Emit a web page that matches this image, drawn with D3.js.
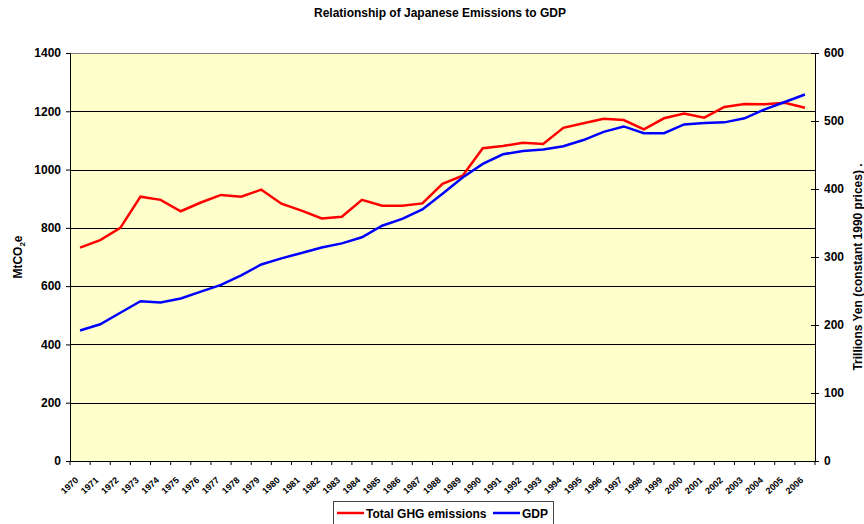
<!DOCTYPE html>
<html>
<head>
<meta charset="utf-8">
<script src="https://cdn.jsdelivr.net/npm/d3@7"></script>
<style>
  body { margin: 0; background: #fff; }
  svg { font-family: "Liberation Sans", Arial, sans-serif; font-weight: bold; }
</style>
</head>
<body>
<div id="chart"></div>
<script>
// Data
var years = d3.range(1970, 2007).map(String);
var ghg = [732, 758, 800, 907, 896, 857, 887, 913, 907, 931,
           883, 859, 832, 838, 896, 876, 876, 884, 951, 979,
           1073, 1081, 1092, 1088, 1143, 1159, 1174, 1170, 1138, 1176,
           1192, 1178, 1215, 1225, 1224, 1229, 1212];
var gdp = [192, 201, 218, 235, 233, 239, 249, 259, 273, 289,
           298, 306, 314, 320, 329, 346, 356, 370, 393, 417,
           437, 451, 456, 458, 463, 472, 484, 492, 482, 482,
           495, 497, 498, 504, 517, 528, 539];
var leftTicks = [0, 200, 400, 600, 800, 1000, 1200, 1400];
var rightTicks = [0, 100, 200, 300, 400, 500, 600];

var W = 864, H = 524,
    margin = { top: 53, right: 49, bottom: 63, left: 70 },
    width = W - margin.left - margin.right,
    height = H - margin.top - margin.bottom;

var svg = d3.select("#chart").append("svg")
    .attr("width", W)
    .attr("height", H);

// title
svg.append("text")
    .attr("x", 440).attr("y", 17)
    .attr("text-anchor", "middle")
    .style("font-size", "12px")
    .text("Relationship of Japanese Emissions to GDP");

var g = svg.append("g")
    .attr("transform", "translate(" + margin.left + "," + margin.top + ")");

var x = d3.scaleBand().domain(years).range([0, width]);
var yL = d3.scaleLinear().domain([0, 1400]).range([height, 0]);
var yR = d3.scaleLinear().domain([0, 600]).range([height, 0]);

// plot background
g.append("rect")
    .attr("width", width).attr("height", height)
    .attr("fill", "#ffffcc");

// gridlines
g.selectAll(".grid")
    .data(leftTicks.slice(1))
    .enter().append("line")
    .attr("x1", 0).attr("x2", width)
    .attr("y1", function (d) { return Math.round(yL(d)) + 0.5; })
    .attr("y2", function (d) { return Math.round(yL(d)) + 0.5; })
    .attr("stroke", function (d) { return d == 1400 ? "#808080" : "#000"; })
    .attr("stroke-width", 1);

// left axis
var leftAxis = g.append("g")
    .call(d3.axisLeft(yL).tickValues(leftTicks).tickFormat(d3.format("d")).tickSize(4).tickPadding(5));
leftAxis.selectAll("text").style("font-size", "12px").attr("fill", "#000");

// right axis with cross ticks
var rightAxis = g.append("g")
    .attr("transform", "translate(" + width + ",0)")
    .call(d3.axisRight(yR).tickValues(rightTicks).tickFormat(d3.format("d")).tickSize(4).tickPadding(5));
rightAxis.selectAll(".tick line").attr("x1", -4);
rightAxis.selectAll("text").style("font-size", "12px").attr("fill", "#000");

// x axis, ticks on category boundaries
var xAxisG = g.append("g")
    .attr("transform", "translate(0," + height + ")")
    .call(d3.axisBottom(x).tickSize(0).tickPadding(0));
xAxisG.selectAll(".tick").each(function () {
    d3.select(this).append("line")
        .attr("x1", -x.bandwidth() / 2).attr("x2", -x.bandwidth() / 2)
        .attr("y1", 0).attr("y2", 4)
        .attr("stroke", "#000");
});
xAxisG.append("line")
    .attr("x1", width).attr("x2", width)
    .attr("y1", 0).attr("y2", 4)
    .attr("stroke", "#000");
xAxisG.selectAll("text")
    .style("font-size", "9px")
    .attr("fill", "#000")
    .attr("text-anchor", "end")
    .attr("dy", null)
    .attr("transform", "translate(-1,20) rotate(-42)");

svg.selectAll(".domain").attr("stroke", "#000");

// lines
var lineL = d3.line()
    .x(function (d, i) { return x(years[i]) + x.bandwidth() / 2; })
    .y(function (d) { return yL(d); });
var lineR = d3.line()
    .x(function (d, i) { return x(years[i]) + x.bandwidth() / 2; })
    .y(function (d) { return yR(d); });

g.append("path").datum(ghg)
    .attr("d", lineL)
    .attr("fill", "none")
    .attr("stroke", "#ff0000")
    .attr("stroke-width", 2.5);

g.append("path").datum(gdp)
    .attr("d", lineR)
    .attr("fill", "none")
    .attr("stroke", "#0000ff")
    .attr("stroke-width", 2.5);

// axis titles
var yl = svg.append("text")
    .attr("transform", "translate(22," + (margin.top + height / 2) + ") rotate(-90)")
    .attr("text-anchor", "middle")
    .style("font-size", "12px");
yl.append("tspan").text("MtCO");
yl.append("tspan").text("2").style("font-size", "8px").attr("dy", 3);
yl.append("tspan").text("e").attr("dy", -3);

svg.append("text")
    .attr("transform", "translate(862," + (margin.top + height / 2 + 10) + ") rotate(-90)")
    .attr("text-anchor", "middle")
    .style("font-size", "12px")
    .text("Trillions Yen (constant 1990 prices) .");

// legend
var legend = svg.append("g").attr("transform", "translate(333,501)");
legend.append("rect")
    .attr("x", 0.5).attr("y", 0.5)
    .attr("width", 220).attr("height", 26)
    .attr("fill", "#fff")
    .attr("stroke", "#444");
var items = [
    { name: "Total GHG emissions", color: "#ff0000", x: 4 },
    { name: "GDP", color: "#0000ff", x: 160 }
];
items.forEach(function (it) {
    legend.append("line")
        .attr("x1", it.x).attr("x2", it.x + 27)
        .attr("y1", 12).attr("y2", 12)
        .attr("stroke", it.color)
        .attr("stroke-width", 2.5);
    legend.append("text")
        .attr("x", it.x + 29).attr("y", 16.5)
        .style("font-size", "12px")
        .text(it.name);
});
</script>
</body>
</html>
